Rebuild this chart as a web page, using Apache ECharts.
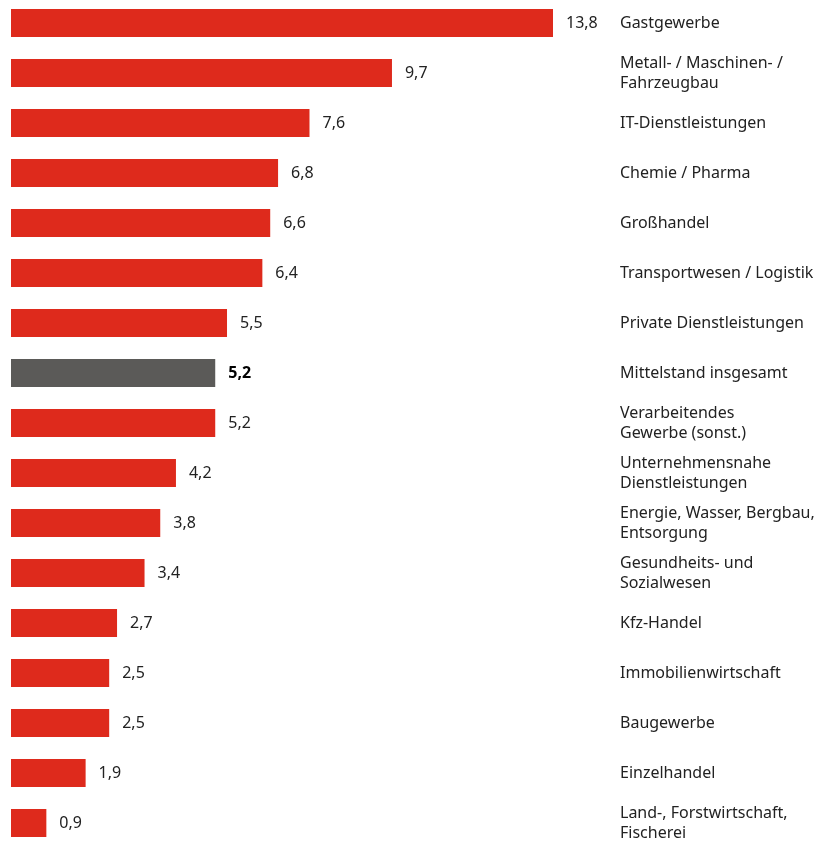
<!DOCTYPE html>
<html>
<head>
<meta charset="utf-8">
<script src="https://cdn.jsdelivr.net/npm/echarts@6/dist/echarts.min.js"></script>
<style>
  html, body { margin: 0; padding: 0; background: #fff; }
  #chart { width: 825px; height: 841px; }
</style>
</head>
<body>
<div id="chart"></div>
<script>
  // Branchen, von oben nach unten
  const categories = [
    'Gastgewerbe',
    'Metall- / Maschinen- /\nFahrzeugbau',
    'IT-Dienstleistungen',
    'Chemie / Pharma',
    'Großhandel',
    'Transportwesen / Logistik',
    'Private Dienstleistungen',
    'Mittelstand insgesamt',
    'Verarbeitendes\nGewerbe (sonst.)',
    'Unternehmensnahe\nDienstleistungen',
    'Energie, Wasser, Bergbau,\nEntsorgung',
    'Gesundheits- und\nSozialwesen',
    'Kfz-Handel',
    'Immobilienwirtschaft',
    'Baugewerbe',
    'Einzelhandel',
    'Land-, Forstwirtschaft,\nFischerei'
  ];
  const values = [13.8, 9.7, 7.6, 6.8, 6.6, 6.4, 5.5, 5.2, 5.2, 4.2, 3.8, 3.4, 2.7, 2.5, 2.5, 1.9, 0.9];
  const totalName = 'Mittelstand insgesamt';

  const red = '#de2a1c';
  const grey = '#5b5a58';

  const chart = echarts.init(document.getElementById('chart'));

  let seriesData = [];
  for (let i = 0; i < values.length; i++) {
    let isTotal = categories[i] === totalName;
    seriesData.push({
      value: values[i],
      itemStyle: { color: isTotal ? grey : red },
      label: isTotal ? { fontWeight: 'bold', color: '#000' } : {}
    });
  }

  const option = {
    animation: false,
    grid: {
      left: 11,
      right: 272,
      top: -2,
      height: 850,
      outerBoundsMode: 'none',
      containLabel: false
    },
    xAxis: {
      type: 'value',
      min: 0,
      max: 13.8,
      show: false
    },
    yAxis: {
      type: 'category',
      data: categories,
      inverse: true,
      position: 'right',
      axisLine: { show: false },
      axisTick: { show: false },
      axisLabel: {
        margin: 67,
        align: 'left',
        fontFamily: 'Noto Sans',
        fontSize: 16,
        lineHeight: 20,
        color: '#222'
      }
    },
    series: [
      {
        type: 'bar',
        barWidth: 28,
        data: seriesData,
        label: {
          show: true,
          position: 'right',
          distance: 13,
          fontFamily: 'Noto Sans',
          fontSize: 16,
          color: '#222',
          formatter: function (p) {
            return String(p.value).replace('.', ',');
          }
        }
      }
    ]
  };

  chart.setOption(option);
</script>
</body>
</html>
